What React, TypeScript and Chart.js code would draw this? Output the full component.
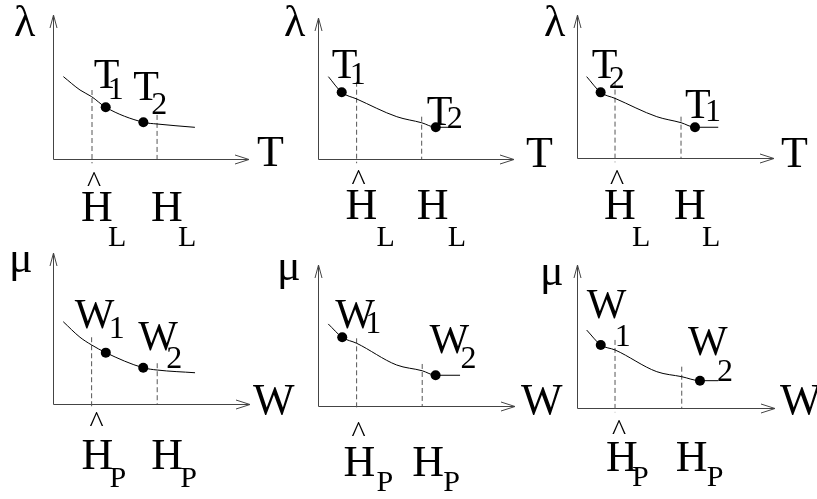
import React, { useEffect, useRef } from "react";
import { Chart, registerables } from "chart.js";

Chart.register(...registerables);

const PAGE_W = 817;
const PAGE_H = 499;
const SERIF = '"Liberation Serif", "Times New Roman", serif';

type Pt = [number, number];

// ---- values (each panel uses a 0–100 by 0–100 frame) ----

// top row: λ against T
const lamCurveA: Pt[] = [[5.3, 57.2], [13.8, 47.9], [19.7, 43.3], [26.9, 35.9], [46.1, 25.5], [53.1, 24.3], [72.4, 22.0]];
const lamDotsA: Pt[] = [[26.9, 35.9], [46.1, 25.5]];
const lamGuidesA: Pt[] = [[19.9, 47.9], [53.1, 30.6]];

const lamCurveB: Pt[] = [[5.3, 58.4], [12.1, 47.3], [19.7, 42.6], [40.2, 30.0], [52.9, 25.7], [60.1, 22.5], [72.4, 22.5]];
const lamDotsB: Pt[] = [[12.1, 47.3], [60.1, 22.5]];
const lamGuidesB: Pt[] = [[19.7, 54.8], [52.9, 30.0]];

const lamCurveC: Pt[] = [[4.9, 56.9], [12.0, 45.9], [19.3, 41.7], [40.5, 28.9], [52.8, 24.7], [59.9, 21.5], [71.7, 21.5]];
const lamDotsC: Pt[] = [[12.0, 45.9], [59.9, 21.5]];
const lamGuidesC: Pt[] = [[19.3, 53.4], [52.8, 28.9]];

// bottom row: μ against W
const muCurveA: Pt[] = [[5.2, 54.5], [13.7, 44.2], [19.6, 39.1], [26.8, 34.0], [45.8, 24.0], [52.9, 22.5], [72.1, 20.7]];
const muDotsA: Pt[] = [[26.8, 34.0], [45.8, 24.0]];
const muGuidesA: Pt[] = [[19.6, 44.2], [52.9, 27.0]];

const muCurveB: Pt[] = [[5.2, 58.2], [12.3, 48.7], [19.6, 44.5], [39.9, 29.1], [52.9, 25.0], [59.7, 21.8], [72.1, 21.8]];
const muDotsB: Pt[] = [[12.3, 48.7], [59.7, 21.8]];
const muGuidesB: Pt[] = [[19.6, 48.0], [52.9, 29.8]];

const muCurveC: Pt[] = [[4.9, 54.5], [12.0, 44.1], [19.2, 40.6], [40.3, 25.4], [52.9, 21.9], [62.1, 19.1], [71.4, 19.1]];
const muDotsC: Pt[] = [[12.0, 44.1], [62.1, 19.1]];
const muGuidesC: Pt[] = [[19.2, 47.6], [52.9, 28.9]];

// the left guide of every panel runs a little past the axis
const guideOvershoot = [-3, 0];

// ---- text ----
const xNames = ["T", "T", "T", "W", "W", "W"];
const yNames = ["λ", "λ", "λ", "μ", "μ", "μ"];
const dotNames: [string, string][][] = [
  [["T", "1"], ["T", "2"]],
  [["T", "1"], ["T", "2"]],
  [["T", "2"], ["T", "1"]],
  [["W", "1"], ["W", "2"]],
  [["W", "1"], ["W", "2"]],
  [["W", "1"], ["W", "2"]],
];
const guideSubs = ["L", "L", "L", "P", "P", "P"];

// ---- layout ----
// plot box of each panel: left, top, right, bottom (page pixels)
const AREAS = [
  [53, 15, 249, 159],
  [318, 18, 514, 159],
  [577, 15, 774, 158],
  [53, 253, 250, 404],
  [318, 265, 515, 406],
  [577, 265, 775, 408],
];

// ink-box offsets (left, top) from each anchor
type Off = {
  y: Pt;
  x: Pt;
  dots: [number, number, number, number][];
  hat: Pt;
  guides: [number, number, number, number][];
};
const OFFSETS: Off[] = [
  { y: [-38, -10], x: [8, -22], dots: [[-12, -47, 4, -29], [-10, -50, 9, -29]], hat: [-5, 13], guides: [[-10, 33, 16, 68], [-5, 33, 21, 68]] },
  { y: [-33, -13], x: [12, -21], dots: [[-10, -42, 10, -29], [-9, -30, 12, -20]], hat: [-5, 11], guides: [[-10, 31, 20, 68], [-4, 31, 26, 68]] },
  { y: [-32, -10], x: [7, -20], dots: [[-9, -42, 9, -25], [-10, -37, 12, -27]], hat: [-5, 12], guides: [[-10, 32, 17, 69], [-6, 32, 21, 69]] },
  { y: [-41, -1], x: [3, -19], dots: [[-31, -53, 5, -36], [-5, -46, 24, -21]], hat: [-2, 8], guides: [[-9, 36, 18, 64], [-5, 36, 23, 64]] },
  { y: [-38, -5], x: [6, -21], dots: [[-7, -37, 25, -25], [-6, -50, 26, -28]], hat: [-5, 16], guides: [[-12, 41, 20, 66], [-9, 41, 21, 66]] },
  { y: [-34, 0], x: [5, -23], dots: [[-14, -55, 16, -20], [-12, -54, 18, -21]], hat: [-3, 12], guides: [[-8, 34, 17, 59], [-5, 34, 25, 59]] },
];

const PANELS = [
  { curve: lamCurveA, dots: lamDotsA, guides: lamGuidesA },
  { curve: lamCurveB, dots: lamDotsB, guides: lamGuidesB },
  { curve: lamCurveC, dots: lamDotsC, guides: lamGuidesC },
  { curve: muCurveA, dots: muDotsA, guides: muGuidesA },
  { curve: muCurveB, dots: muDotsB, guides: muGuidesB },
  { curve: muCurveC, dots: muDotsC, guides: muGuidesC },
];

const MAIN = 44;
const POINT_MAIN = 42;
const SUB = 30;
const DIGIT = 32;
const AXIS_COLOR = "#444";
const GUIDE_COLOR = "#555";

function ink(ctx: CanvasRenderingContext2D, text: string, size: number, left: number, top: number) {
  ctx.font = size + "px " + SERIF;
  const m = ctx.measureText(text);
  ctx.fillText(text, left + m.actualBoundingBoxLeft, top + m.actualBoundingBoxAscent);
}

function makeDecor(i: number) {
  const off = OFFSETS[i];
  const panel = PANELS[i];
  return {
    id: "decor" + i,
    beforeDatasetsDraw(chart: any) {
      const ctx: CanvasRenderingContext2D = chart.ctx;
      const xs = chart.scales.x;
      const ys = chart.scales.y;
      const x0 = Math.round(xs.getPixelForValue(0)) + 0.5;
      const y0 = Math.round(ys.getPixelForValue(0)) + 0.5;
      const x1 = xs.getPixelForValue(100);
      const y1 = ys.getPixelForValue(100);
      ctx.save();
      ctx.strokeStyle = AXIS_COLOR;
      ctx.lineWidth = 1;
      ctx.beginPath();
      ctx.moveTo(x0, y0);
      ctx.lineTo(x1, y0);
      ctx.moveTo(x0, y0);
      ctx.lineTo(x0, y1);
      ctx.moveTo(x1 - 14, y0 - 4.5);
      ctx.lineTo(x1, y0);
      ctx.lineTo(x1 - 14, y0 + 4.5);
      ctx.moveTo(x0 - 3.5, y1 + 13);
      ctx.lineTo(x0, y1);
      ctx.lineTo(x0 + 3.5, y1 + 13);
      ctx.stroke();
      ctx.restore();
    },
    afterDatasetsDraw(chart: any) {
      const ctx: CanvasRenderingContext2D = chart.ctx;
      const xs = chart.scales.x;
      const ys = chart.scales.y;
      const ox = xs.getPixelForValue(0);
      const oy = ys.getPixelForValue(0);
      ctx.save();
      ctx.fillStyle = "#000";
      ctx.textAlign = "left";
      ctx.textBaseline = "alphabetic";
      // axis names
      ink(ctx, yNames[i], MAIN, ox + off.y[0], ys.getPixelForValue(100) + off.y[1]);
      ink(ctx, xNames[i], MAIN, xs.getPixelForValue(100) + off.x[0], oy + off.x[1]);
      // point names with subscripts
      panel.dots.forEach((d, k) => {
        const px = xs.getPixelForValue(d[0]);
        const py = ys.getPixelForValue(d[1]);
        const o = off.dots[k];
        ink(ctx, dotNames[i][k][0], POINT_MAIN, px + o[0], py + o[1]);
        ink(ctx, dotNames[i][k][1], DIGIT, px + o[2], py + o[3]);
      });
      // H labels under the guides, the first one with a hat
      panel.guides.forEach((g, k) => {
        const gx = xs.getPixelForValue(g[0]);
        const o = off.guides[k];
        if (k === 0) ink(ctx, "^", SUB, gx + off.hat[0], oy + off.hat[1]);
        ink(ctx, "H", MAIN, gx + o[0], oy + o[1]);
        ink(ctx, guideSubs[i], SUB, gx + o[2], oy + o[3]);
      });
      ctx.restore();
    },
  };
}

function buildConfig(i: number): any {
  const panel = PANELS[i];
  const [l, t, r, b] = AREAS[i];
  const toXY = (p: Pt) => ({ x: p[0], y: p[1] });
  const datasets: any[] = [
    {
      data: panel.curve.map(toXY),
      borderColor: "#000",
      borderWidth: 1,
      pointRadius: 0,
      cubicInterpolationMode: "monotone",
      fill: false,
    },
    ...panel.guides.map((g, k) => ({
      data: [{ x: g[0], y: g[1] }, { x: g[0], y: guideOvershoot[k] }],
      borderColor: GUIDE_COLOR,
      borderWidth: 1,
      borderDash: [5, 3],
      pointRadius: 0,
      tension: 0,
      clip: false,
      fill: false,
    })),
    {
      data: panel.dots.map(toXY),
      showLine: false,
      pointRadius: 5,
      pointBackgroundColor: "#000",
      pointBorderWidth: 0,
      clip: false,
    },
  ];
  return {
    type: "line",
    data: { datasets },
    options: {
      animation: false,
      responsive: false,
      devicePixelRatio: 1,
      events: [],
      layout: { padding: { left: l, top: t, right: PAGE_W - r, bottom: PAGE_H - b } },
      scales: {
        x: { type: "linear", min: 0, max: 100, display: false },
        y: { type: "linear", min: 0, max: 100, display: false },
      },
      plugins: { legend: { display: false }, tooltip: { enabled: false }, title: { display: false } },
    },
    plugins: [makeDecor(i)],
  };
}

function Panel({ index }: { index: number }) {
  const ref = useRef<HTMLCanvasElement | null>(null);
  useEffect(() => {
    const chart = new Chart(ref.current!, buildConfig(index));
    return () => chart.destroy();
  }, [index]);
  return (
    <canvas
      ref={ref}
      width={PAGE_W}
      height={PAGE_H}
      style={{ position: "absolute", left: 0, top: 0, width: PAGE_W, height: PAGE_H }}
    />
  );
}

export default function App() {
  return (
    <div style={{ position: "fixed", left: 0, top: 0, width: PAGE_W, height: PAGE_H, background: "#fff", overflow: "hidden" }}>
      {PANELS.map((_, i) => (
        <Panel key={i} index={i} />
      ))}
    </div>
  );
}
